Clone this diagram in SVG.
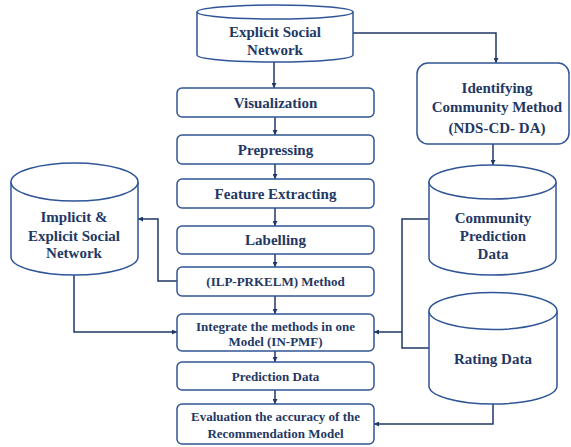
<svg xmlns="http://www.w3.org/2000/svg" width="571" height="447" viewBox="0 0 571 447">
<defs>
<style>
.shape{fill:#ffffff;stroke:#2f5597;stroke-width:1.5}
.conn{fill:none;stroke:#1f3864;stroke-width:1.5}
text{font-family:"Liberation Serif","Times New Roman",serif;font-weight:bold;fill:#1f3864;text-anchor:middle}
.t15{font-size:15px}
.t13{font-size:13px}
</style>
<marker id="arr" viewBox="0 0 10 10" refX="10" refY="5" markerWidth="6" markerHeight="5" markerUnits="userSpaceOnUse" orient="auto">
<path d="M0,0 L10,5 L0,10 Z" fill="#1f3864"/>
</marker>
</defs>
<rect width="571" height="447" fill="#ffffff"/>

<g id="connectors">
<path class="conn" d="M274,62 V88" marker-end="url(#arr)"/>
<path class="conn" d="M275,117 V135" marker-end="url(#arr)"/>
<path class="conn" d="M275,164 V179" marker-end="url(#arr)"/>
<path class="conn" d="M275,208 V226" marker-end="url(#arr)"/>
<path class="conn" d="M275,254 V267" marker-end="url(#arr)"/>
<path class="conn" d="M275,296 V314" marker-end="url(#arr)"/>
<path class="conn" d="M275,351 V362" marker-end="url(#arr)"/>
<path class="conn" d="M275,390 V404" marker-end="url(#arr)"/>
<path class="conn" d="M353,33 H496 V63" marker-end="url(#arr)"/>
<path class="conn" d="M493,144 V165" marker-end="url(#arr)"/>
<path class="conn" d="M177,281 H158 V219 H138" marker-end="url(#arr)"/>
<path class="conn" d="M74,275 V332 H177" marker-end="url(#arr)"/>
<path class="conn" d="M429,219 H402 V348 H429"/>
<path class="conn" d="M402,332 H374" marker-end="url(#arr)"/>
<path class="conn" d="M493,404 V424 H374" marker-end="url(#arr)"/>
</g>

<g id="explicit-social-network">
<path class="shape" d="M197,12 A78,7 0 0 1 353,12 V55 A78,7 0 0 1 197,55 Z"/>
<path class="shape" d="M197,12 A78,7 0 0 0 353,12" fill="none"/>
<text class="t15" x="275" y="37">Explicit Social</text>
<text class="t15" x="275" y="55">Network</text>
</g>

<g id="visualization">
<rect class="shape" x="177" y="88" width="197" height="29" rx="5"/>
<text class="t15" x="275.5" y="108">Visualization</text>
</g>

<g id="prepressing">
<rect class="shape" x="177" y="135" width="197" height="29" rx="5"/>
<text class="t15" x="275.5" y="155">Prepressing</text>
</g>

<g id="feature-extracting">
<rect class="shape" x="177" y="179" width="197" height="29" rx="5"/>
<text class="t15" x="275.5" y="199">Feature Extracting</text>
</g>

<g id="labelling">
<rect class="shape" x="177" y="226" width="197" height="28" rx="5"/>
<text class="t15" x="275.5" y="245">Labelling</text>
</g>

<g id="ilp-prkelm">
<rect class="shape" x="177" y="267" width="197" height="29" rx="5"/>
<text class="t13" x="275.5" y="286">(ILP-PRKELM) Method</text>
</g>

<g id="integrate">
<rect class="shape" x="177" y="314" width="197" height="37" rx="5"/>
<text class="t13" x="275.5" y="331">Integrate the methods in one</text>
<text class="t13" x="275.5" y="346">Model (IN-PMF)</text>
</g>

<g id="prediction-data">
<rect class="shape" x="177" y="362" width="197" height="28" rx="5"/>
<text class="t13" x="275.5" y="381">Prediction Data</text>
</g>

<g id="evaluation">
<rect class="shape" x="177" y="404" width="197" height="40" rx="5"/>
<text class="t13" x="275.5" y="421">Evaluation the accuracy of the</text>
<text class="t13" x="275.5" y="438">Recommendation Model</text>
</g>

<g id="implicit-explicit-social-network">
<path class="shape" d="M11,182 A63.5,19 0 0 1 138,182 V257 A63.5,18 0 0 1 11,257 Z"/>
<path class="shape" d="M11,182 A63.5,19 0 0 0 138,182" fill="none"/>
<text class="t15" x="74" y="222">Implicit &amp;</text>
<text class="t15" x="74" y="241">Explicit Social</text>
<text class="t15" x="74" y="258">Network</text>
</g>

<g id="identifying-community-method">
<rect class="shape" x="417" y="63" width="152" height="81" rx="11"/>
<text class="t15" x="497" y="93">Identifying</text>
<text class="t15" x="497" y="112">Community Method</text>
<text class="t15" x="497" y="133">(NDS-CD- DA)</text>
</g>

<g id="community-prediction-data">
<path class="shape" d="M429,182 A63.5,17 0 0 1 556,182 V258 A63.5,17 0 0 1 429,258 Z"/>
<path class="shape" d="M429,182 A63.5,17 0 0 0 556,182" fill="none"/>
<text class="t15" x="493" y="223">Community</text>
<text class="t15" x="493" y="241">Prediction</text>
<text class="t15" x="493" y="259">Data</text>
</g>

<g id="rating-data">
<path class="shape" d="M429,311 A64,18.5 0 0 1 557,311 V386 A64,18 0 0 1 429,386 Z"/>
<path class="shape" d="M429,311 A64,18.5 0 0 0 557,311" fill="none"/>
<text class="t15" x="493" y="364">Rating Data</text>
</g>
</svg>
